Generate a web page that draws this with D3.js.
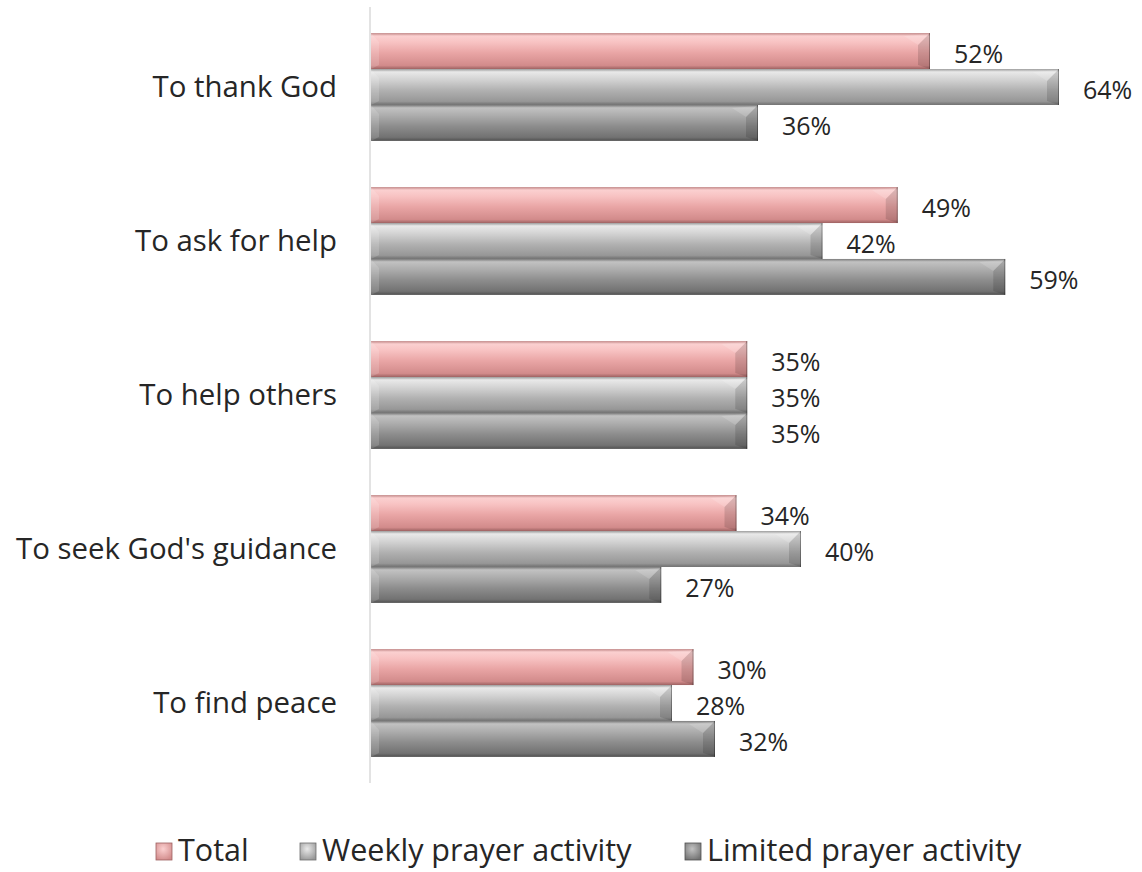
<!DOCTYPE html>
<html>
<head>
<meta charset="utf-8">
<script src="https://cdn.jsdelivr.net/npm/d3@7"></script>
<style>
  html, body { margin: 0; padding: 0; background: #ffffff; }
  svg { display: block; }
  text { font-family: "Open Sans", "DejaVu Sans", sans-serif; fill: #262626; }
</style>
</head>
<body>
<svg id="chart" width="1142" height="872"></svg>
<script>
const categories = ["To thank God", "To ask for help", "To help others", "To seek God's guidance", "To find peace"];
const seriesNames = ["Total", "Weekly prayer activity", "Limited prayer activity"];
const totalValues   = [52, 49, 35, 34, 30];
const weeklyValues  = [64, 42, 35, 40, 28];
const limitedValues = [36, 59, 35, 27, 32];
const seriesValues = [totalValues, weeklyValues, limitedValues];

const svg = d3.select("#chart");
const W = 1142, H = 872;
svg.append("rect").attr("width", W).attr("height", H).attr("fill", "#fff");

const x = d3.scaleLinear().domain([0, 70]).range([371, 371 + 70 * 10.75]);
const y = d3.scaleBand().domain(categories).range([10, 780]).paddingInner(0.3).paddingOuter(0.15);
const ys = d3.scaleBand().domain(seriesNames).range([0, y.bandwidth()]).padding(0);

const defs = svg.append("defs");
const palettes = {
  "Total": [["0", "#c08585"], ["0.08", "#fbd0d0"], ["0.25", "#f8c3c3"], ["0.55", "#e9a5a5"], ["0.9", "#d28b8b"], ["1", "#9e6262"]],
  "Weekly prayer activity": [["0", "#9a9a9a"], ["0.08", "#e9e9e9"], ["0.3", "#d2d2d2"], ["0.6", "#b0b0b0"], ["0.9", "#979797"], ["1", "#6e6e6e"]],
  "Limited prayer activity": [["0", "#7a7a7a"], ["0.08", "#c2c2c2"], ["0.3", "#acacac"], ["0.6", "#8c8c8c"], ["0.9", "#727272"], ["1", "#505050"]]
};
const ids = {};
seriesNames.forEach((s, i) => {
  const id = "g" + i;
  ids[s] = id;
  const g = defs.append("linearGradient").attr("id", id).attr("x1", 0).attr("y1", 0).attr("x2", 0).attr("y2", 1);
  palettes[s].forEach(([o, c]) => g.append("stop").attr("offset", o).attr("stop-color", c));
  const r = defs.append("radialGradient").attr("id", "r" + i).attr("cx", "0.45").attr("cy", "0.35").attr("r", "0.7");
  r.append("stop").attr("offset", "0").attr("stop-color", palettes[s][1][1]);
  r.append("stop").attr("offset", "1").attr("stop-color", palettes[s][4][1]);
});

// axis line
svg.append("line")
  .attr("x1", x(0) - 1).attr("x2", x(0) - 1)
  .attr("y1", y.range()[0] - 3).attr("y2", y.range()[1] + 3)
  .attr("stroke", "#d0d0d0").attr("stroke-width", 1.2);

const data = [];
categories.forEach((c, ci) => {
  seriesNames.forEach((s, si) => {
    data.push({ cat: c, series: s, value: seriesValues[si][ci] });
  });
});

const bars = svg.append("g").selectAll("g.bar").data(data).join("g").attr("class", "bar");
bars.append("rect")
  .attr("x", x(0))
  .attr("y", d => y(d.cat) + ys(d.series))
  .attr("width", d => x(d.value) - x(0))
  .attr("height", ys.bandwidth())
  .attr("fill", d => "url(#" + ids[d.series] + ")");
// right bevel: light triangle at top, darker below
bars.append("polygon")
  .attr("points", d => {
    const x1 = x(d.value), y0 = y(d.cat) + ys(d.series), y1 = y0 + ys.bandwidth();
    const b = 12;
    return [[x1 - b, y0 + 12], [x1, y0], [x1, y1], [x1 - b, y1 - 4]].map(p => p.join(",")).join(" ");
  })
  .attr("fill", "#000").attr("opacity", 0.13);
bars.append("polygon")
  .attr("points", d => {
    const x1 = x(d.value), y0 = y(d.cat) + ys(d.series);
    const b = 12;
    return [[x1 - b - 14, y0 + 3], [x1 - 1, y0 + 1], [x1 - b, y0 + 12]].map(p => p.join(",")).join(" ");
  })
  .attr("fill", "#fff").attr("opacity", 0.15);
bars.append("line")
  .attr("x1", d => x(d.value) - 0.5).attr("x2", d => x(d.value) - 0.5)
  .attr("y1", d => y(d.cat) + ys(d.series))
  .attr("y2", d => y(d.cat) + ys(d.series) + ys.bandwidth())
  .attr("stroke", "#000").attr("stroke-opacity", 0.3);
// left bevel (lighter)
bars.append("polygon")
  .attr("points", d => {
    const x0 = x(0), y0 = y(d.cat) + ys(d.series), y1 = y0 + ys.bandwidth();
    const b = 8;
    return [[x0, y0], [x0 + b, y0 + 9], [x0 + b, y1 - 4], [x0, y1]].map(p => p.join(",")).join(" ");
  })
  .attr("fill", "#fff").attr("opacity", 0.15);

// value labels
svg.append("g").selectAll("text").data(data).join("text")
  .attr("x", d => x(d.value) + 24)
  .attr("y", d => y(d.cat) + ys(d.series) + ys.bandwidth() / 2 + 12)
  .attr("font-size", 25)
  .text(d => d.value + "%");

// category labels
svg.append("g").selectAll("text").data(categories).join("text")
  .attr("x", 337)
  .attr("y", d => y(d) + ys(seriesNames[1]) + ys.bandwidth() / 2 + 10)
  .attr("text-anchor", "end")
  .attr("font-size", 29.4)
  .text(d => d);

// legend
const legendX = [156, 300, 685];
const lg = svg.append("g").selectAll("g").data(seriesNames).join("g")
  .attr("transform", (d, i) => `translate(${legendX[i]},843)`);
lg.append("rect").attr("width", 16).attr("height", 17)
  .attr("fill", (d, i) => "url(#r" + i + ")")
  .attr("stroke", (d, i) => palettes[d][5][1]).attr("stroke-width", 0.8);
lg.append("text").attr("x", 22).attr("y", 18).attr("font-size", 30.5).text(d => d);
</script>
</body>
</html>
